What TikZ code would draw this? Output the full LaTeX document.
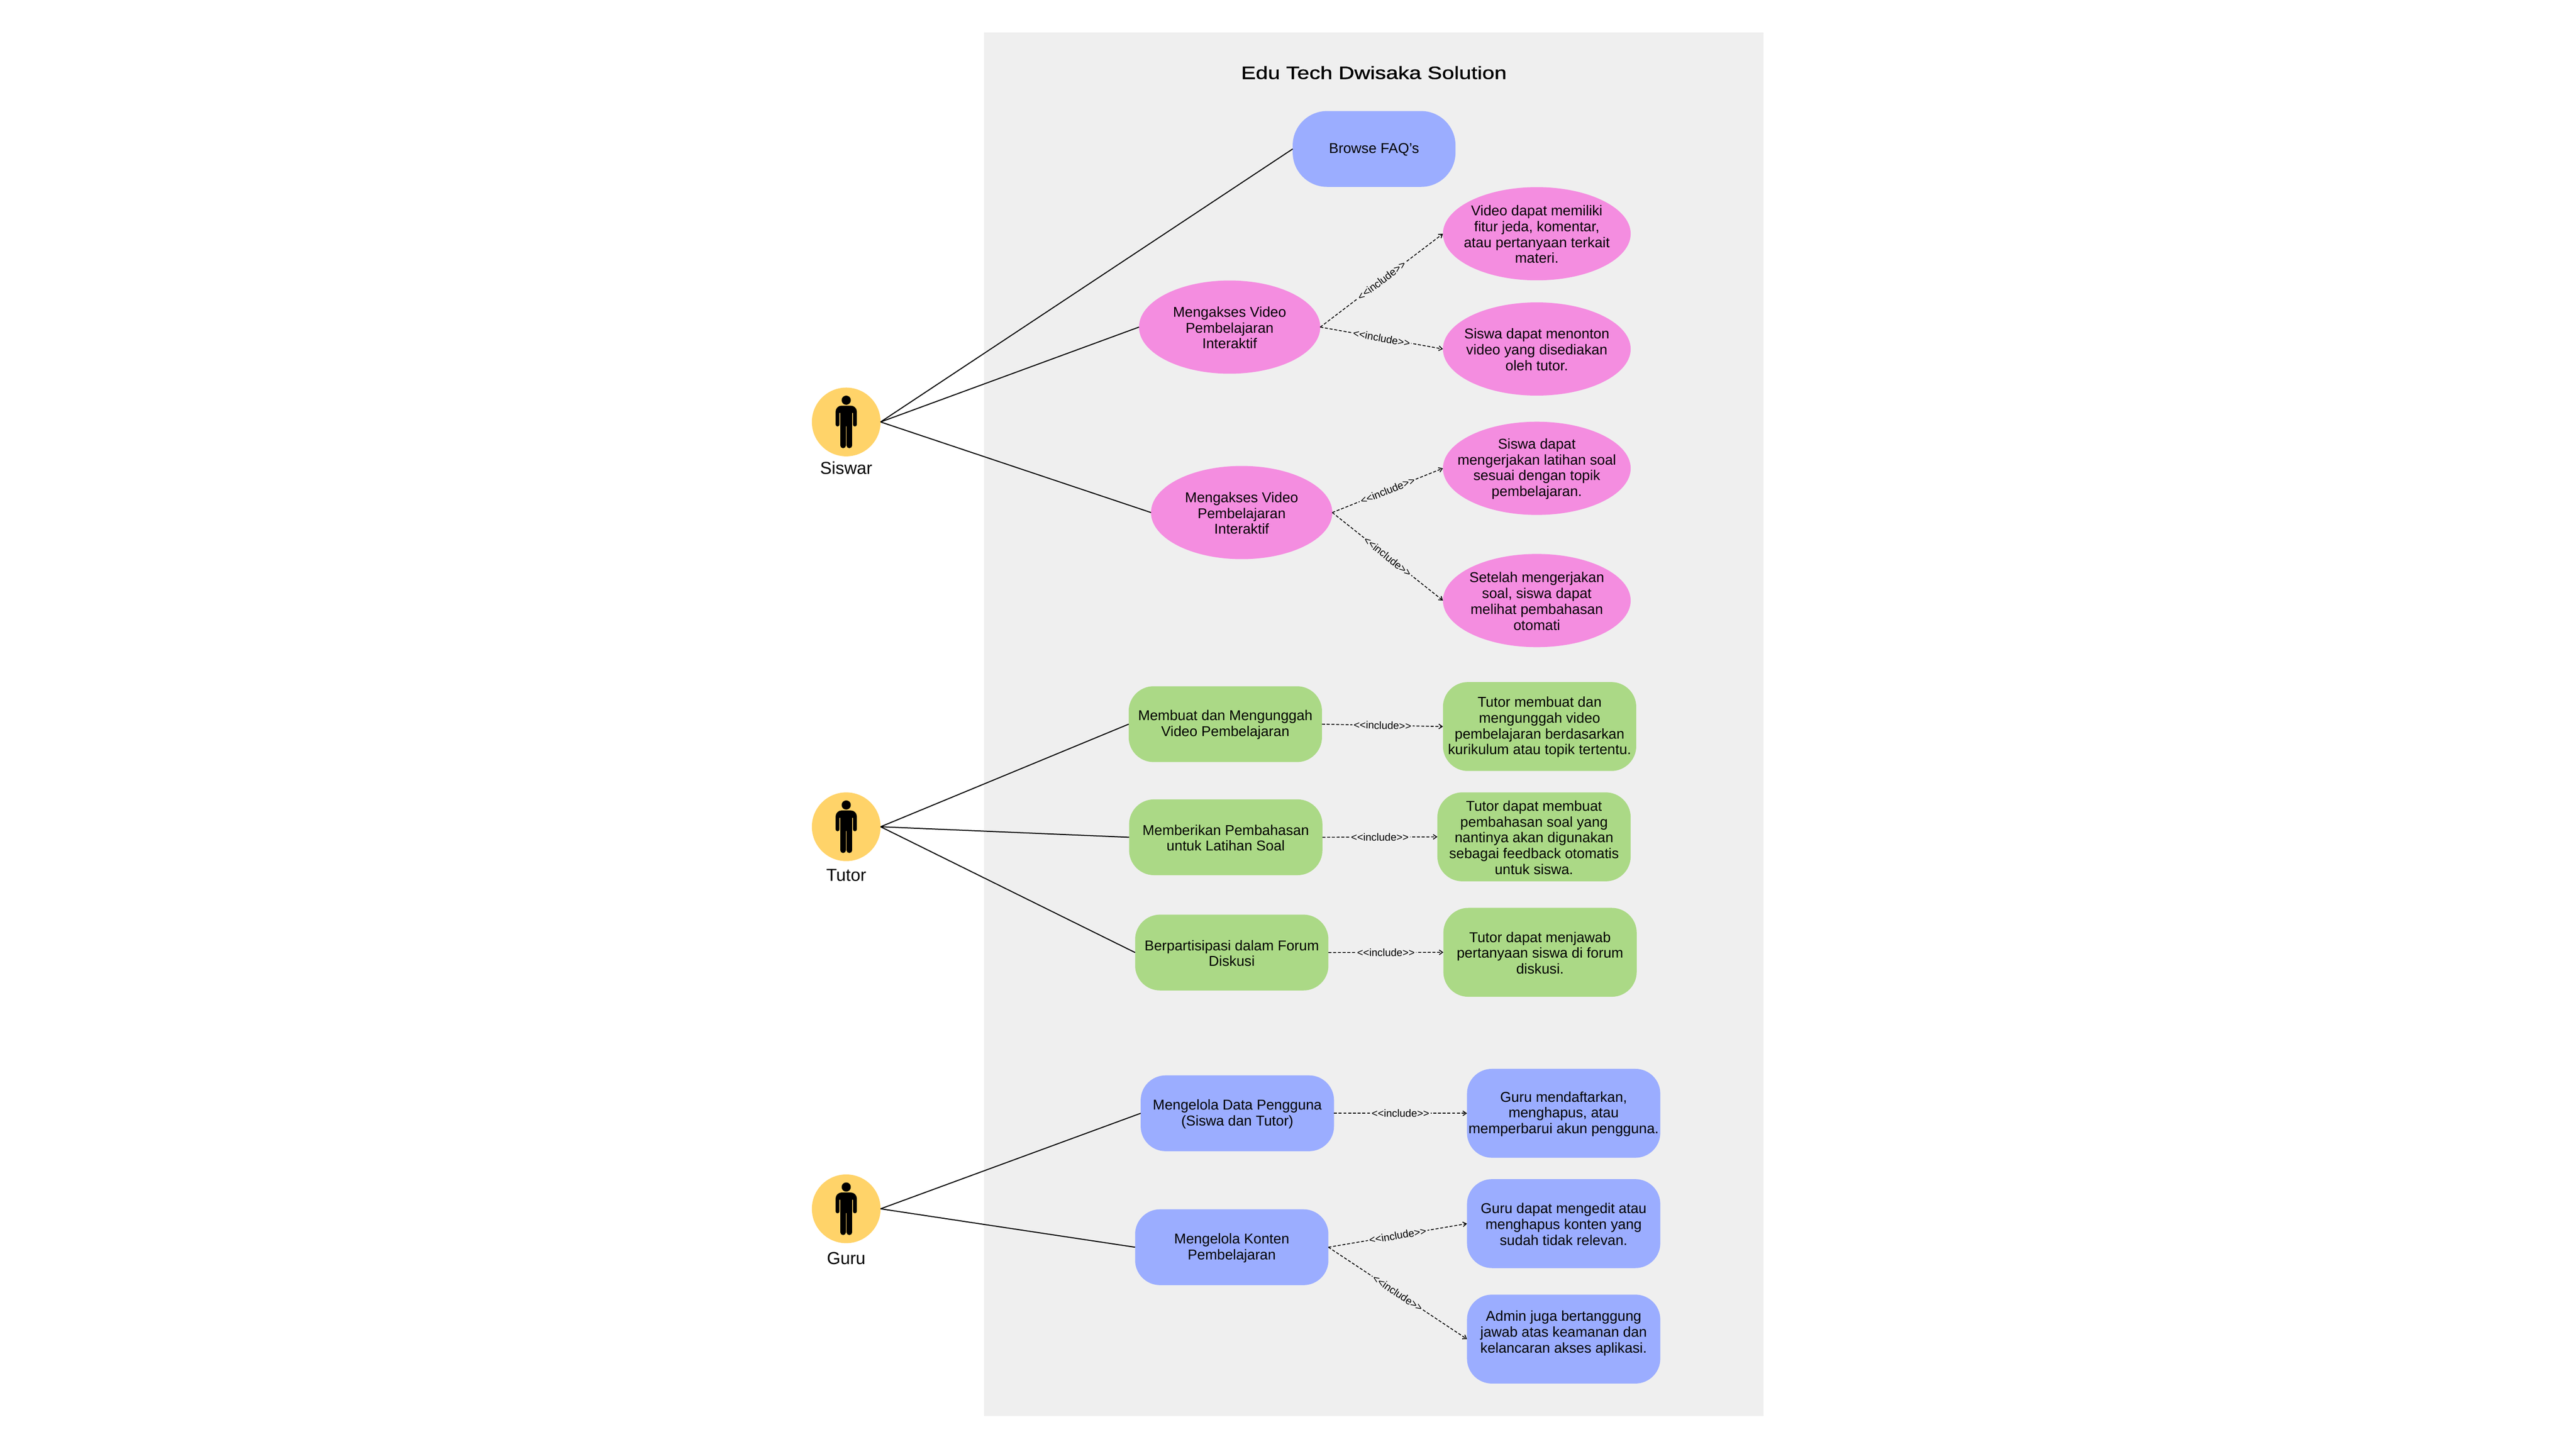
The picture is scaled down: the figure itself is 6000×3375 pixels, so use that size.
\documentclass[tikz,border=0pt]{standalone}
\usepackage{fontspec}
\setmainfont{Liberation Sans}
\newfontfamily\titlefont[FakeStretch=1.23,FakeBold=1.2]{Liberation Sans}
\newfontfamily\inclfont{Liberation Sans}
\usetikzlibrary{shapes.geometric,arrows.meta}
\definecolor{panelgray}{HTML}{EFEFEF}
\definecolor{caseblue}{HTML}{9BADFF}
\definecolor{casepink}{HTML}{F48DE0}
\definecolor{casegreen}{HTML}{ABD986}
\definecolor{actoryellow}{HTML}{FFD369}
\tikzset{
  casetext/.style={font=\fontsize{9.45}{10.47}\selectfont,align=center,inner sep=0pt,outer sep=0pt,text=black,yshift=-0.015cm},
  shapebase/.style={inner sep=0pt,outer sep=0pt},
  ovalcase/.style={shapebase,ellipse,fill=casepink,minimum width=4.22cm,minimum height=2.17cm},
  ovalnote/.style={shapebase,ellipse,fill=casepink,minimum width=4.37cm,minimum height=2.17cm},
  boxcase/.style={shapebase,rectangle,rounded corners=0.58cm,minimum width=4.5cm,minimum height=1.765cm},
  boxnote/.style={shapebase,rectangle,rounded corners=0.58cm,minimum width=4.5cm,minimum height=2.07cm},
  actorlabel/.style={font=\fontsize{11.5}{13}\selectfont,anchor=base,inner sep=0pt},
  actorcircle/.style={circle,fill=actoryellow,minimum size=1.6cm,inner sep=0pt,outer sep=0pt},
  assoc/.style={draw=black,line width=0.024cm},
  incl/.style={draw=black,line width=0.02cm,dash pattern=on 0.07cm off 0.04cm,-{Straight Barb[length=0.08cm,width=0.11cm]}},
  incllabel/.style={font=\inclfont\fontsize{6.94}{8}\selectfont,sloped,midway,fill=panelgray,inner xsep=0.03cm,inner ysep=0.02cm},
  personicon/.pic={
    \fill[black] (0,-50.7) circle[radius=10.7];
    \fill[black]
      [rounded corners=0.14cm] (-24.7,-10) -- (-24.7,-38) -- (24.7,-38) -- (24.7,-10)
      [rounded corners=0.045cm] -- (24.7,10.5) -- (15.7,10.5)
      [sharp corners] -- (15.7,-21) -- (13.7,-21)
      [rounded corners=0.06cm] -- (13.7,61) -- (0.8,61)
      [sharp corners] -- (0.8,10) -- (-0.8,10)
      [rounded corners=0.06cm] -- (-0.8,61) -- (-13.7,61)
      [sharp corners] -- (-13.7,-21) -- (-15.7,-21)
      [rounded corners=0.045cm] -- (-15.7,10.5) -- (-24.7,10.5) -- cycle;
  }
}
\newcommand{\casenode}[4]{%
  \node[#1] (#2) at (#3) {};
  \node[casetext] (#2text) at (#2.center) {#4};
}
\begin{document}
\begin{tikzpicture}[x=0.01cm,y=-0.01cm]
\useasboundingbox (0,0) rectangle (6000,3375);
\fill[white] (0,0) rectangle (6000,3375);
\fill[panelgray] (2292,76) rectangle (4107,3299);
\node[font=\titlefont\fontsize{11.8}{14}\selectfont,anchor=base,inner sep=0pt] (title) at (3200,184) {Edu Tech Dwisaka Solution};

% actors
\node[actorcircle] (siswa) at (1971,983) {};
\node[actorcircle] (tutor) at (1971,1926) {};
\node[actorcircle] (guru) at (1971,2816) {};
\pic at (siswa.center) {personicon};
\pic at (tutor.center) {personicon};
\pic at (guru.center) {personicon};
\node[actorlabel] (lblsiswa) at (1971,1105) {Siswar};
\node[actorlabel] (lbltutor) at (1971,2053) {Tutor};
\node[actorlabel] (lblguru) at (1971,2945) {Guru};

% Siswa cases
\casenode{boxcase,fill=caseblue,rounded corners=0.8cm,minimum width=3.79cm}{faq}{3200.5,347}{Browse FAQ's}
\casenode{ovalcase}{v1}{2864,762}{Mengakses Video\\Pembelajaran\\Interaktif}
\casenode{ovalcase}{v2}{2892,1194}{Mengakses Video\\Pembelajaran\\Interaktif}
\casenode{ovalnote}{n1}{3579.5,544.5}{Video dapat memiliki\\fitur jeda, komentar,\\atau pertanyaan terkait\\materi.}
\casenode{ovalnote}{n2}{3579.5,813}{Siswa dapat menonton\\video yang disediakan\\oleh tutor.}
\casenode{ovalnote}{n3}{3579.5,1091}{Siswa dapat\\mengerjakan latihan soal\\sesuai dengan topik\\pembelajaran.}
\casenode{ovalnote}{n4}{3579.5,1399}{Setelah mengerjakan\\soal, siswa dapat\\melihat pembahasan\\otomati}

% Tutor cases
\casenode{boxcase,fill=casegreen}{t1}{2854,1687}{Membuat dan Mengunggah\\Video Pembelajaran}
\casenode{boxcase,fill=casegreen}{t2}{2855,1950.5}{Memberikan Pembahasan\\untuk Latihan Soal}
\casenode{boxcase,fill=casegreen}{t3}{2869,2219}{Berpartisipasi dalam Forum\\Diskusi}
\casenode{boxnote,fill=casegreen}{tn1}{3586,1692.5}{Tutor membuat dan\\mengunggah video\\pembelajaran berdasarkan\\kurikulum atau topik tertentu.}
\casenode{boxnote,fill=casegreen}{tn2}{3573,1949.5}{Tutor dapat membuat\\pembahasan soal yang\\nantinya akan digunakan\\sebagai feedback otomatis\\untuk siswa.}
\casenode{boxnote,fill=casegreen}{tn3}{3587,2218.5}{Tutor dapat menjawab\\pertanyaan siswa di forum\\diskusi.}

% Guru cases
\casenode{boxcase,fill=caseblue}{g1}{2882,2593.5}{Mengelola Data Pengguna\\(Siswa dan Tutor)}
\casenode{boxcase,fill=caseblue}{g2}{2869,2905.5}{Mengelola Konten\\Pembelajaran}
\casenode{boxnote,fill=caseblue}{gn1}{3642,2593.5}{Guru mendaftarkan,\\menghapus, atau\\memperbarui akun pengguna.}
\casenode{boxnote,fill=caseblue}{gn2}{3642,2850.5}{Guru dapat mengedit atau\\menghapus konten yang\\sudah tidak relevan.}
\casenode{boxnote,fill=caseblue}{gn3}{3642,3119.5}{Admin juga bertanggung\\jawab atas keamanan dan\\kelancaran akses aplikasi.\\~}

% associations
\draw[assoc] (siswa.east) -- (faq.west);
\draw[assoc] (siswa.east) -- (v1.west);
\draw[assoc] (siswa.east) -- (v2.west);
\draw[assoc] (tutor.east) -- (t1.west);
\draw[assoc] (tutor.east) -- (t2.west);
\draw[assoc] (tutor.east) -- (t3.west);
\draw[assoc] (guru.east) -- (g1.west);
\draw[assoc] (guru.east) -- (g2.west);

% includes
\draw[incl] (v1.east) -- node[incllabel] {<<include>>} (n1.west);
\draw[incl] (v1.east) -- node[incllabel] {<<include>>} (n2.west);
\draw[incl] (v2.east) -- node[incllabel] {<<include>>} (n3.west);
\draw[incl] (v2.east) -- node[incllabel] {<<include>>} (n4.west);
\draw[incl] (t1.east) -- node[incllabel] {<<include>>} (tn1.west);
\draw[incl] (t2.east) -- node[incllabel] {<<include>>} (tn2.west);
\draw[incl] (t3.east) -- node[incllabel] {<<include>>} (tn3.west);
\draw[incl] (g1.east) -- node[incllabel] {<<include>>} (gn1.west);
\draw[incl] (g2.east) -- node[incllabel] {<<include>>} (gn2.west);
\draw[incl] (g2.east) -- node[incllabel] {<<include>>} (gn3.west);
\end{tikzpicture}
\end{document}
